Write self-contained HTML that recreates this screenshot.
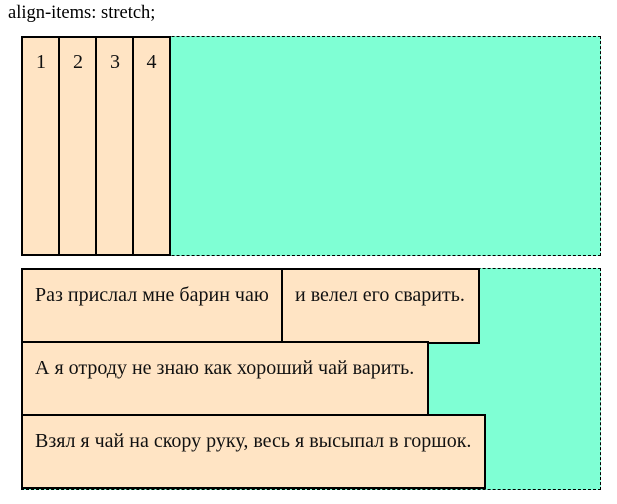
<!DOCTYPE html>
<html><head><meta charset="utf-8"><style>
body{margin:0;font-family:"Liberation Serif",serif;font-size:16px;color:#000;background:#fff;}
.t{position:absolute;left:8px;top:3px;font-size:18.5px;}
.c{position:absolute;border:1px dashed #000;background:#7fffd4;box-sizing:border-box;}
.i{position:absolute;background:#ffe4c4;border:2px solid #000;box-sizing:border-box;color:#111;}
.n{text-align:center;padding-top:13px;font-size:20px;}
.w{padding:14px 0 0 12px;font-size:20px;white-space:nowrap;}
</style></head><body>
<div class="t">align-items: stretch;</div>
<div class="c" style="left:21px;top:36px;width:580px;height:220px;"></div>
<div class="i n" style="left:21px;top:36px;width:40px;height:220px;">1</div>
<div class="i n" style="left:58px;top:36px;width:40px;height:220px;">2</div>
<div class="i n" style="left:95px;top:36px;width:40px;height:220px;">3</div>
<div class="i n" style="left:132px;top:36px;width:39px;height:220px;">4</div>
<div class="c" style="left:21px;top:268px;width:580px;height:222px;"></div>
<div class="i w" style="left:21px;top:268px;width:263px;height:76px;">Раз прислал мне барин чаю</div>
<div class="i w" style="left:281px;top:268px;width:199px;height:76px;">и велел его сварить.</div>
<div class="i w" style="left:21px;top:341px;width:408px;height:76px;">А я отроду не знаю как хороший чай варить.</div>
<div class="i w" style="left:21px;top:414px;width:465px;height:75px;">Взял я чай на скору руку, весь я высыпал в горшок.</div>
</body></html>
